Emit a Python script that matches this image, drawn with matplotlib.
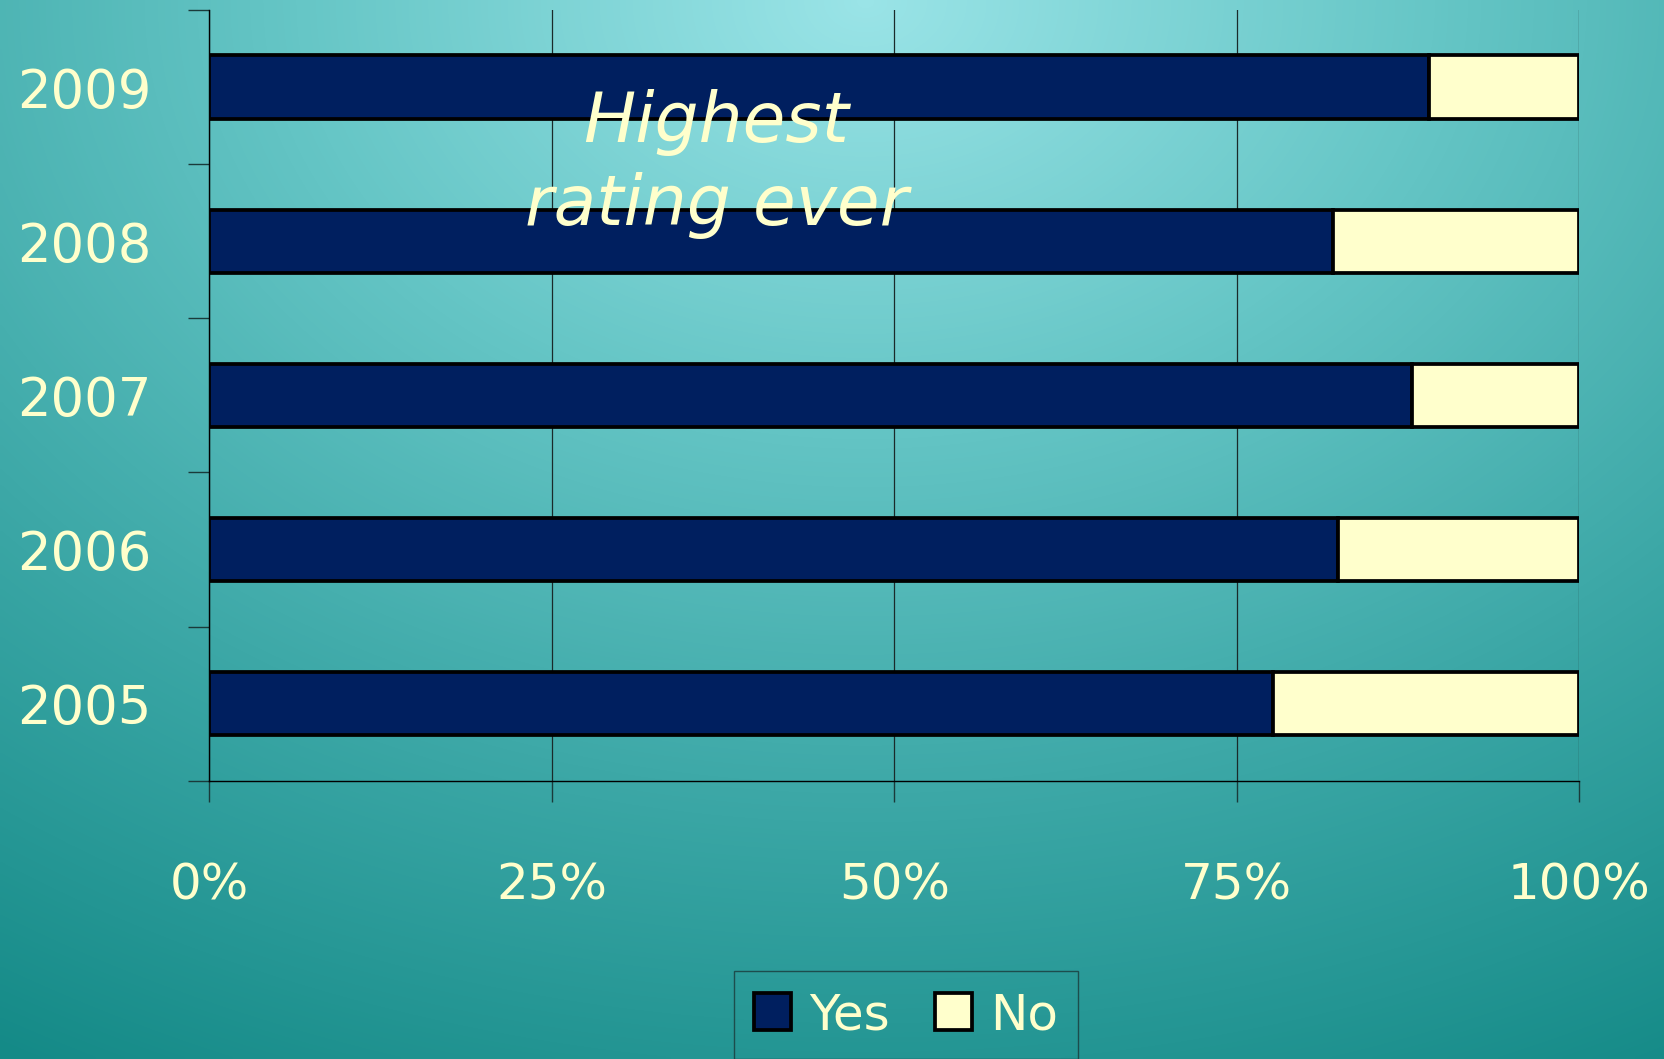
import numpy as np
import matplotlib.pyplot as plt
from matplotlib.colors import LinearSegmentedColormap

years = ["2005", "2006", "2007", "2008", "2009"]
yes_pct = [77.6, 82.4, 87.8, 82.0, 89.0]
no_pct = [22.4, 17.6, 12.2, 18.0, 11.0]
x_ticks = [0, 25, 50, 75, 100]
x_labels = ["0%", "25%", "50%", "75%", "100%"]

TXT = "#FFFFCC"
NAVY = "#001F5F"

plt.rcParams['font.family'] = ['DejaVu Sans']

fig = plt.figure(figsize=(16.65, 10.59), dpi=100)

# background gradient, light at top middle, dark teal at the corners
bg = fig.add_axes([0, 0, 1, 1], zorder=-10)
gx, gy = np.meshgrid(np.linspace(0, 1, 400), np.linspace(0, 1, 260))
d = np.sqrt(((gx - 0.52) / 1.05) ** 2 + ((gy - 0.0) / 1.2) ** 2)
d = np.clip(d / 1.0, 0, 1)
cmap = LinearSegmentedColormap.from_list("bg", ["#9AE4E7", "#66C6C6", "#3AA6A5", "#148A87"])
bg.imshow(d, cmap=cmap, aspect="auto", extent=[0, 1, 1, 0], interpolation="bilinear")
bg.axis("off")

ax = fig.add_axes([0.1258, 0.2628, 0.8228, 0.7278])
ax.set_facecolor("none")

ypos = np.arange(len(years))
ax.barh(ypos, yes_pct, height=0.41, color=NAVY, edgecolor="black", linewidth=2.7, label="Yes", zorder=3)
ax.barh(ypos, no_pct, left=yes_pct, height=0.41, color=TXT, edgecolor="black", linewidth=2.7, label="No", zorder=3)

ax.set_xlim(0, 100)
ax.set_ylim(-0.5, len(years) - 0.5)
ax.set_xticks(x_ticks)
ax.set_xticklabels(x_labels)
ax.set_yticks(ypos)
ax.set_yticklabels(years)
ax.set_yticks(np.arange(-0.5, len(years), 1.0), minor=True)

ax.tick_params(axis="y", which="major", length=0, pad=42, labelsize=38, labelcolor=TXT)
ax.tick_params(axis="y", which="minor", length=15, width=1, color="#1a3a3a")
ax.tick_params(axis="x", length=15, width=1, pad=43, labelsize=36, labelcolor=TXT, color="#1a3a3a")

ax.grid(axis="x", color="#1a2a2a", linewidth=0.9, zorder=0)
for s in ["top", "right"]:
    ax.spines[s].set_visible(False)
ax.spines["left"].set_linewidth(1.0)
ax.spines["bottom"].set_linewidth(1.0)

ax.text(37, 3.5, "Highest\nrating ever", fontsize=50, style="italic", color=TXT,
        ha="center", va="center", linespacing=1.3, zorder=5)

leg = fig.legend(loc="upper center", bbox_to_anchor=(0.544, 0.083), ncol=2, fontsize=36,
                 frameon=True, fancybox=False, handlelength=0.75, handleheight=0.75,
                 handletextpad=0.35, columnspacing=0.9, borderpad=0.4, borderaxespad=0)
leg.get_frame().set_facecolor("none")
leg.get_frame().set_edgecolor("#1a3a3a")
for t in leg.get_texts():
    t.set_color(TXT)

fig.savefig("out.png", dpi=100)
